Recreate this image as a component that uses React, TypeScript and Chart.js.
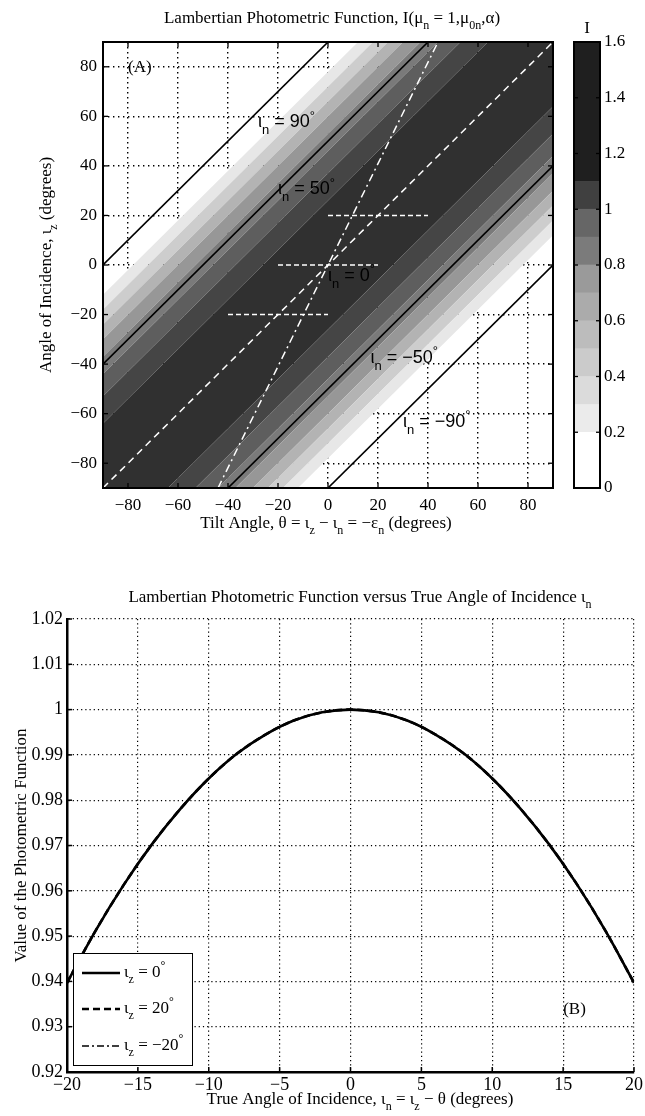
import React, { useEffect, useRef } from "react";
import { Chart, registerables } from "chart.js";

Chart.register(...registerables);

const SERIF = '"Liberation Serif", "Times New Roman", Times, serif';
const SANS = '"Liberation Sans", Arial, Helvetica, sans-serif';

// ================= Panel (A) data =================
const tiltTicks = [-80, -60, -40, -20, 0, 20, 40, 60, 80];
const incidenceTicks = [-80, -60, -40, -20, 0, 20, 40, 60, 80];
const angleMin = -90;
const angleMax = 90;
// contour bands of I as |ι_n| limits (deg), centre outward, and their grey shades
const bandLimits = [26, 37, 46, 53, 60, 66, 72, 78];
const bandGreys = ["#303030", "#454545", "#5e5e5e", "#7a7a7a", "#979797", "#b3b3b3", "#cdcdcd", "#e7e7e7"];
// labelled black contour lines (ι_n, deg)
const contourLevels = [90, 50, -50, -90];
const contourLabelTheta = [-28, -20, 17, 30, 0];
const contourLabelIz = [58, 31, -37, -63, -4];
const contourLabelValue = ["90", "50", "−50", "−90", "0"];
// white dashed line ι_n = 0 and white dash-dot line
const zeroLevel = 0;
const dashDotTheta = [-44, 44];
const dashDotIz = [-90, 90];
// white dashed segments at ι_z = 20, 0, −20 spanning ι_n from −20 to 20
const segmentIz = [20, 0, -20];
const segmentIotaN = [-20, 20];
const panelALabelPos = [-80, 80];

// colour bar
const cbEdges = [0, 0.2, 0.3, 0.4, 0.5, 0.6, 0.7, 0.8, 0.9, 1.0, 1.1, 1.6];
const cbGreys = ["#ffffff", "#ebebeb", "#dbdbdb", "#cbcbcb", "#bcbcbc", "#ababab", "#9a9a9a", "#7b7b7b", "#666666", "#404040", "#1f1f1f"];
const cbTicks = [0, 0.2, 0.4, 0.6, 0.8, 1, 1.2, 1.4, 1.6];
const cbTickLabels = ["0", "0.2", "0.4", "0.6", "0.8", "1", "1.2", "1.4", "1.6"];

// ================= Panel (B) data =================
const trueAngle = [-20, -18, -16, -14, -12, -10, -8, -6, -4, -2, 0, 2, 4, 6, 8, 10, 12, 14, 16, 18, 20];
const photoIz0 = [0.9397, 0.9511, 0.9613, 0.9703, 0.9781, 0.9848, 0.9903, 0.9945, 0.9976, 0.9994, 1.0, 0.9994, 0.9976, 0.9945, 0.9903, 0.9848, 0.9781, 0.9703, 0.9613, 0.9511, 0.9397];
const photoIz20 = [0.9397, 0.9511, 0.9613, 0.9703, 0.9781, 0.9848, 0.9903, 0.9945, 0.9976, 0.9994, 1.0, 0.9994, 0.9976, 0.9945, 0.9903, 0.9848, 0.9781, 0.9703, 0.9613, 0.9511, 0.9397];
const photoIzM20 = [0.9397, 0.9511, 0.9613, 0.9703, 0.9781, 0.9848, 0.9903, 0.9945, 0.9976, 0.9994, 1.0, 0.9994, 0.9976, 0.9945, 0.9903, 0.9848, 0.9781, 0.9703, 0.9613, 0.9511, 0.9397];
const bXTicks = [-20, -15, -10, -5, 0, 5, 10, 15, 20];
const bYTicks = [0.92, 0.93, 0.94, 0.95, 0.96, 0.97, 0.98, 0.99, 1.0, 1.01, 1.02];
const bYTickLabels = ["0.92", "0.93", "0.94", "0.95", "0.96", "0.97", "0.98", "0.99", "1", "1.01", "1.02"];
const legendLabels = ["ι_{z} = 0^{°}", "ι_{z} = 20^{°}", "ι_{z} = −20^{°}"];
const panelBLabelPos = [15, 0.934];

// ================= layout (page px) =================
const W = 645;
const A_H = 545;
const A_LEFT = 103, A_RIGHT = 553, A_TOP = 42, A_BOTTOM = 488;
const CB_X = 560, CB_W = 85, CB_LEFT = 574, CB_RIGHT = 600;
const B_Y = 545, B_H = 571;
const B_LEFT = 67, B_RIGHT = 638, B_TOP = 619, B_BOTTOM = 1072;

// ================= rich text helpers =================
type Part = { t: string; s?: "sub" | "sup" };
function parse(str: string): Part[] {
  const parts: Part[] = [];
  let i = 0;
  let buf = "";
  while (i < str.length) {
    const c = str[i];
    if ((c === "_" || c === "^") && str[i + 1] === "{") {
      if (buf) { parts.push({ t: buf }); buf = ""; }
      const end = str.indexOf("}", i);
      parts.push({ t: str.slice(i + 2, end), s: c === "_" ? "sub" : "sup" });
      i = end + 1;
    } else { buf += c; i++; }
  }
  if (buf) parts.push({ t: buf });
  return parts;
}
function pFont(size: number, family: string, s?: string) {
  return `${s ? Math.round(size * 0.72) : size}px ${family}`;
}
function drawRich(ctx: CanvasRenderingContext2D, text: string, x: number, y: number, size: number, family: string, align = "center", color = "#000") {
  const parts = parse(text);
  ctx.save();
  ctx.fillStyle = color;
  ctx.textAlign = "left";
  ctx.textBaseline = "alphabetic";
  let w = 0;
  for (const p of parts) { ctx.font = pFont(size, family, p.s); w += ctx.measureText(p.t).width; }
  let cx = align === "center" ? x - w / 2 : align === "right" ? x - w : x;
  const base = y + size * 0.33;
  for (const p of parts) {
    ctx.font = pFont(size, family, p.s);
    const dy = p.s === "sub" ? size * 0.4 : p.s === "sup" ? -size * 0.42 : 0;
    ctx.fillText(p.t, cx, base + dy);
    cx += ctx.measureText(p.t).width;
  }
  ctx.restore();
}
function drawRichRot(ctx: CanvasRenderingContext2D, text: string, x: number, y: number, size: number, family: string) {
  ctx.save();
  ctx.translate(x, y);
  ctx.rotate(-Math.PI / 2);
  drawRich(ctx, text, 0, 0, size, family, "center");
  ctx.restore();
}
function seg(ctx: CanvasRenderingContext2D, x1: number, y1: number, x2: number, y2: number) {
  ctx.beginPath(); ctx.moveTo(x1, y1); ctx.lineTo(x2, y2); ctx.stroke();
}
const fmtNum = (v: number) => String(v).replace("-", "−");

// ================= Panel (A) =================
function levelLine(level: number) {
  return [{ x: angleMin, y: angleMin + level }, { x: angleMax, y: angleMax + level }];
}
function bandIndex(absIotaN: number) {
  for (let k = 0; k < bandLimits.length; k++) if (absIotaN < bandLimits[k]) return k;
  return bandLimits.length - 1;
}

function configA(): any {
  const bounds = [...bandLimits.slice().reverse().map((v) => -v), ...bandLimits];
  const datasets: any[] = bounds.map((b, i) => ({
    data: levelLine(b),
    borderWidth: 0,
    borderColor: "rgba(0,0,0,0)",
    fill: i === 0 ? false : "-1",
    backgroundColor: i === 0 ? "rgba(0,0,0,0)" : bandGreys[bandIndex(Math.abs((bounds[i - 1] + b) / 2))],
    order: 10,
  }));
  contourLevels.forEach((lv) => datasets.push({ data: levelLine(lv), borderColor: "#000", borderWidth: 1.6, fill: false, order: 5 }));
  datasets.push({ data: levelLine(zeroLevel), borderColor: "#fff", borderWidth: 1.5, borderDash: [7, 5], fill: false, order: 1 });
  datasets.push({
    data: dashDotTheta.map((t, i) => ({ x: t, y: dashDotIz[i] })),
    borderColor: "#fff", borderWidth: 1.5, borderDash: [8, 4, 2, 4], fill: false, order: 1,
  });
  segmentIz.forEach((iz) => datasets.push({
    data: [{ x: iz - segmentIotaN[1], y: iz }, { x: iz - segmentIotaN[0], y: iz }],
    borderColor: "#fff", borderWidth: 1.5, borderDash: [5, 3], fill: false, order: 1,
  }));

  const axisCommon = (ticksArr: number[]) => ({
    type: "linear",
    min: angleMin,
    max: angleMax,
    z: 1,
    afterBuildTicks: (s: any) => { s.ticks = ticksArr.map((v) => ({ value: v })); },
    grid: { color: "#000", lineWidth: 1.4, drawTicks: false },
    border: { display: false, dash: [1.4, 3.6] },
    ticks: { color: "#000", font: { family: SERIF, size: 17 }, autoSkip: false, maxRotation: 0, callback: (v: number) => fmtNum(v) },
  });

  const plugin = {
    id: "panelA",
    afterDraw(chart: any) {
      const { ctx, chartArea: a } = chart;
      const x = chart.scales.x, y = chart.scales.y;
      for (let i = 0; i < contourLabelValue.length; i++) {
        drawRich(ctx, `ι_{n} = ${contourLabelValue[i]}^{°}`, x.getPixelForValue(contourLabelTheta[i]), y.getPixelForValue(contourLabelIz[i]), 18, SANS, "left");
      }
      drawRich(ctx, "(A)", x.getPixelForValue(panelALabelPos[0]), y.getPixelForValue(panelALabelPos[1]), 17, SERIF, "left");
      ctx.save();
      ctx.strokeStyle = "#000";
      ctx.lineWidth = 2;
      ctx.strokeRect(a.left, a.top, a.right - a.left, a.bottom - a.top);
      ctx.lineWidth = 1.3;
      for (const v of tiltTicks) {
        const px = x.getPixelForValue(v);
        seg(ctx, px, a.bottom, px, a.bottom - 5);
        seg(ctx, px, a.top, px, a.top + 5);
      }
      for (const v of incidenceTicks) {
        const py = y.getPixelForValue(v);
        seg(ctx, a.left, py, a.left + 5, py);
        seg(ctx, a.right, py, a.right - 5, py);
      }
      ctx.restore();
      drawRich(ctx, "Lambertian Photometric Function, I(μ_{n} = 1,μ_{0n},α)", 332, 17, 17, SERIF, "center");
      drawRich(ctx, "Tilt Angle, θ = ι_{z} − ι_{n} = −ε_{n} (degrees)", 326, 522, 17, SERIF, "center");
      drawRichRot(ctx, "Angle of Incidence, ι_{z} (degrees)", 45, (a.top + a.bottom) / 2, 17, SERIF);
    },
  };

  return {
    type: "line",
    data: { datasets },
    options: {
      animation: false,
      responsive: false,
      maintainAspectRatio: false,
      layout: { padding: { left: 0, right: W - A_RIGHT, top: A_TOP, bottom: 0 } },
      plugins: { legend: { display: false }, tooltip: { enabled: false } },
      elements: { point: { radius: 0 }, line: { tension: 0 } },
      scales: {
        x: { ...axisCommon(tiltTicks), afterFit: (s: any) => { s.height = A_H - A_BOTTOM; }, ticks: { ...axisCommon(tiltTicks).ticks, padding: 7 } },
        y: { ...axisCommon(incidenceTicks), afterFit: (s: any) => { s.width = A_LEFT; }, ticks: { ...axisCommon(incidenceTicks).ticks, padding: 6 } },
      },
    },
    plugins: [plugin],
  };
}

// ================= colour bar =================
function configCB(): any {
  const plugin = {
    id: "cbar",
    afterDraw(chart: any) {
      const { ctx, chartArea: a } = chart;
      const y = chart.scales.y;
      ctx.save();
      ctx.strokeStyle = "#000";
      ctx.lineWidth = 2;
      ctx.strokeRect(a.left, a.top, a.right - a.left, a.bottom - a.top);
      ctx.lineWidth = 1.3;
      for (const v of cbTicks) {
        const py = y.getPixelForValue(v);
        seg(ctx, a.left, py, a.left + 4, py);
        seg(ctx, a.right, py, a.right - 4, py);
      }
      ctx.restore();
      drawRich(ctx, "I", (a.left + a.right) / 2, 27, 17, SERIF, "center");
    },
  };
  return {
    type: "bar",
    data: {
      labels: ["I"],
      datasets: cbGreys.map((g, i) => ({
        data: [[cbEdges[i], cbEdges[i + 1]]],
        backgroundColor: g,
        borderWidth: 0,
        barPercentage: 1,
        categoryPercentage: 1,
        grouped: false,
      })),
    },
    options: {
      animation: false,
      responsive: false,
      maintainAspectRatio: false,
      layout: { padding: { left: CB_LEFT - CB_X, top: A_TOP, bottom: A_H - A_BOTTOM, right: 0 } },
      plugins: { legend: { display: false }, tooltip: { enabled: false } },
      scales: {
        x: { display: false },
        y: {
          position: "right",
          min: 0,
          max: 1.6,
          afterFit: (s: any) => { s.width = CB_W - (CB_RIGHT - CB_X); },
          afterBuildTicks: (s: any) => { s.ticks = cbTicks.map((v) => ({ value: v })); },
          grid: { display: false, drawTicks: false },
          border: { display: false },
          ticks: { color: "#000", padding: 4, font: { family: SERIF, size: 17 }, autoSkip: false, callback: (_v: number, i: number) => cbTickLabels[i] },
        },
      },
    },
    plugins: [plugin],
  };
}

// ================= Panel (B) =================
function configB(): any {
  const series = [
    { label: legendLabels[0], vals: photoIz0, dash: [] as number[], width: 2.6, order: 1 },
    { label: legendLabels[1], vals: photoIz20, dash: [7, 4], width: 2.6, order: 2 },
    { label: legendLabels[2], vals: photoIzM20, dash: [7, 3, 2, 3], width: 1.6, order: 3 },
  ];
  const datasets = series.map((s) => ({
    label: s.label,
    data: trueAngle.map((a, i) => ({ x: a, y: s.vals[i] })),
    borderColor: "#000",
    borderWidth: s.width,
    borderDash: s.dash,
    fill: false,
    order: s.order,
  }));

  const plugin = {
    id: "panelB",
    afterDraw(chart: any) {
      const { ctx, chartArea: a } = chart;
      const x = chart.scales.x, y = chart.scales.y;
      ctx.save();
      ctx.strokeStyle = "#000";
      ctx.lineWidth = 1.5;
      for (const v of bXTicks) { const px = x.getPixelForValue(v); seg(ctx, px, a.bottom, px, a.bottom - 5); }
      for (const v of bYTicks) { const py = y.getPixelForValue(v); seg(ctx, a.left, py, a.left + 5, py); }
      // legend box
      const lx = a.left + 6, ly = a.bottom - 119, lw = 119, lh = 112;
      ctx.fillStyle = "#fff";
      ctx.fillRect(lx, ly, lw, lh);
      ctx.lineWidth = 1;
      ctx.strokeRect(lx + 0.5, ly + 0.5, lw, lh);
      const rows = [20, 56, 93];
      series.forEach((s, i) => {
        const ry = ly + rows[i];
        ctx.lineWidth = s.width;
        ctx.setLineDash(s.dash);
        seg(ctx, lx + 9, ry, lx + 47, ry);
        ctx.setLineDash([]);
        drawRich(ctx, s.label, lx + 51, ry - 2, 17, SERIF, "left");
      });
      ctx.restore();
      drawRich(ctx, "(B)", x.getPixelForValue(panelBLabelPos[0]), y.getPixelForValue(panelBLabelPos[1]), 17, SERIF, "left");
      drawRich(ctx, "Lambertian Photometric Function versus True Angle of Incidence ι_{n}", 360, 51, 17, SERIF, "center");
      drawRich(ctx, "True Angle of Incidence, ι_{n} = ι_{z} − θ (degrees)", 360, B_BOTTOM - B_Y + 26, 17, SERIF, "center");
      drawRichRot(ctx, "Value of the Photometric Function", 20, (a.top + a.bottom) / 2, 17, SERIF);
    },
  };

  return {
    type: "line",
    data: { datasets },
    options: {
      animation: false,
      responsive: false,
      maintainAspectRatio: false,
      layout: { padding: { left: 0, right: W - B_RIGHT, top: B_TOP - B_Y, bottom: 0 } },
      plugins: { legend: { display: false }, tooltip: { enabled: false } },
      elements: { point: { radius: 0 }, line: { cubicInterpolationMode: "monotone" } },
      scales: {
        x: {
          type: "linear",
          min: -20,
          max: 20,
          afterFit: (s: any) => { s.height = B_H - (B_BOTTOM - B_Y); },
          afterBuildTicks: (s: any) => { s.ticks = bXTicks.map((v) => ({ value: v })); },
          grid: { color: "#000", lineWidth: 1.2, drawTicks: false },
          border: { display: true, color: "#000", width: 2.5, dash: [1.2, 3] },
          ticks: { color: "#000", padding: 2, font: { family: SERIF, size: 18 }, autoSkip: false, maxRotation: 0, callback: (v: number) => fmtNum(v) },
        },
        y: {
          type: "linear",
          min: 0.92,
          max: 1.02,
          afterFit: (s: any) => { s.width = B_LEFT; },
          afterBuildTicks: (s: any) => { s.ticks = bYTicks.map((v) => ({ value: v })); },
          grid: { color: "#000", lineWidth: 1.2, drawTicks: false },
          border: { display: true, color: "#000", width: 2.5, dash: [1.2, 3] },
          ticks: { color: "#000", padding: 4, font: { family: SERIF, size: 18 }, autoSkip: false, callback: (_v: number, i: number) => bYTickLabels[i] },
        },
      },
    },
    plugins: [plugin],
  };
}

export default function App() {
  const aRef = useRef<HTMLCanvasElement>(null);
  const cbRef = useRef<HTMLCanvasElement>(null);
  const bRef = useRef<HTMLCanvasElement>(null);

  useEffect(() => {
    const charts: Chart[] = [];
    if (aRef.current) charts.push(new Chart(aRef.current, configA()));
    if (cbRef.current) charts.push(new Chart(cbRef.current, configCB()));
    if (bRef.current) charts.push(new Chart(bRef.current, configB()));
    return () => charts.forEach((c) => c.destroy());
  }, []);

  return (
    <div style={{ position: "absolute", left: 0, top: 0, width: W, height: 1116, background: "#fff", overflow: "hidden" }}>
      <canvas ref={aRef} width={W} height={A_H} style={{ position: "absolute", left: 0, top: 0 }} />
      <canvas ref={cbRef} width={CB_W} height={A_H} style={{ position: "absolute", left: CB_X, top: 0 }} />
      <canvas ref={bRef} width={W} height={B_H} style={{ position: "absolute", left: 0, top: B_Y }} />
    </div>
  );
}
